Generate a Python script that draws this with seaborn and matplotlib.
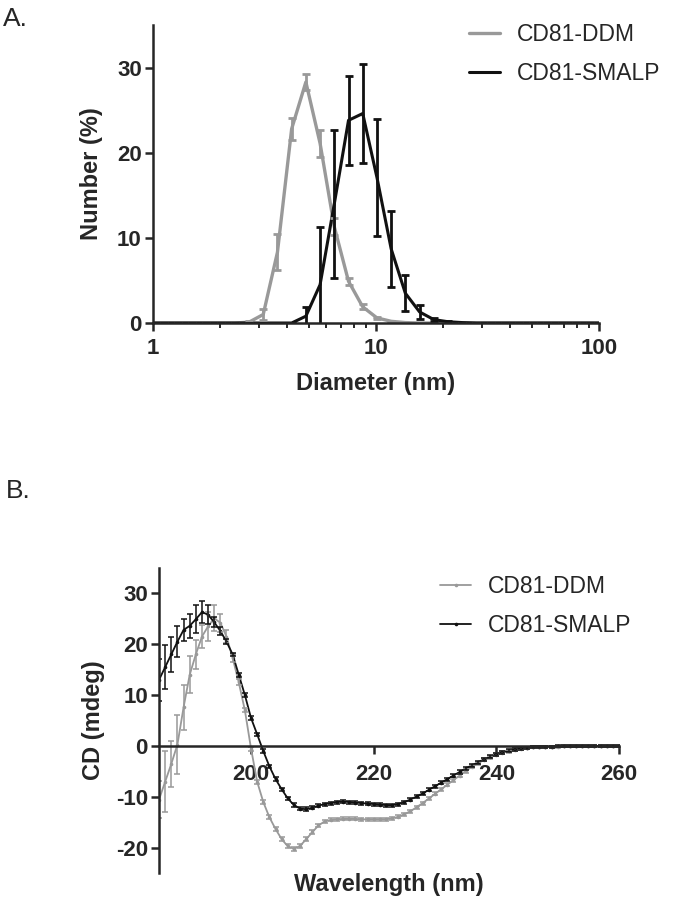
import numpy as np
import pandas as pd
import matplotlib.pyplot as plt
import seaborn as sns

# ---- A. DLS size distribution (number %) ----
diameter = [0.9649, 1.117, 1.294, 1.499, 1.736, 2.010, 2.328, 2.696, 3.122, 3.615, 4.187,
            4.849, 5.615, 6.503, 7.531, 8.721, 10.10, 11.70, 13.54, 15.69, 18.17,
            21.04, 24.36, 28.21, 32.67, 37.84, 43.82, 50.75, 58.77, 68.06, 78.82, 91.28, 105.7]
ddm_num = [0, 0, 0, 0, 0, 0, 0, 0.1, 1.0, 8.3, 22.8,
           28.3, 21.1, 11.3, 4.9, 1.9, 0.6, 0.2, 0.05, 0, 0,
           0, 0, 0, 0, 0, 0, 0, 0, 0, 0, 0, 0]
ddm_sd = [0, 0, 0, 0, 0, 0, 0, 0.1, 0.7, 2.1, 1.3,
          0.9, 1.6, 1.0, 0.4, 0.3, 0.1, 0.05, 0, 0, 0,
          0, 0, 0, 0, 0, 0, 0, 0, 0, 0, 0, 0]
smalp_num = [0, 0, 0, 0, 0, 0, 0, 0, 0, 0, 0,
             0.8, 4.5, 14.0, 23.8, 24.6, 17.1, 8.7, 3.5, 1.3, 0.4,
             0.15, 0.05, 0, 0, 0, 0, 0, 0, 0, 0, 0, 0]
smalp_sd = [0, 0, 0, 0, 0, 0, 0, 0, 0, 0, 0,
            1.1, 6.8, 8.7, 5.2, 5.8, 6.9, 4.5, 2.1, 0.8, 0.2,
            0.05, 0, 0, 0, 0, 0, 0, 0, 0, 0, 0, 0]

# ---- B. CD spectra ----
wavelength = np.arange(185, 261)
cd_ddm = [-10.5, -7.0, -3.5, 0.3, 7.6, 14.0, 18.0, 21.5, 23.5, 25.1,
          24.2, 21.5, 17.3, 12.5, 7.0, -0.5, -7.0, -11.0, -14.0, -16.3,
          -18.3, -19.7, -20.2, -19.6, -18.3, -16.9, -15.6, -14.8, -14.5, -14.4,
          -14.3, -14.3, -14.3, -14.4, -14.4, -14.4, -14.4, -14.4, -14.2, -13.9,
          -13.4, -12.8, -12.0, -11.2, -10.3, -9.4, -8.5, -7.6, -6.7, -5.8,
          -4.9, -4.1, -3.4, -2.7, -2.2, -1.7, -1.3, -1.0, -0.7, -0.5,
          -0.35, -0.25, -0.2, -0.15, -0.1, -0.1, -0.05, -0.05, -0.05, -0.05,
          0, 0, 0, 0, 0, 0]
cd_ddm_sd = [3.6, 6.0, 4.5, 5.7, 4.4, 3.6, 2.8, 2.3, 2.9, 2.6,
             1.8, 1.2, 0.8, 0.6, 0.4, 0.4, 0.4, 0.4, 0.4, 0.4,
             0.4, 0.4, 0.4, 0.4, 0.4, 0.4, 0.3, 0.3, 0.3, 0.3,
             0.3, 0.3, 0.3, 0.3, 0.3, 0.3, 0.3, 0.3, 0.3, 0.3,
             0.3, 0.3, 0.3, 0.3, 0.3, 0.3, 0.3, 0.3, 0.3, 0.3,
             0.3, 0.3, 0.3, 0.3, 0.3, 0.3, 0.3, 0.3, 0.3, 0.3,
             0.2, 0.2, 0.2, 0.2, 0.2, 0.2, 0.2, 0.2, 0.2, 0.2,
             0.2, 0.2, 0.2, 0.2, 0.2, 0.2]
cd_smalp = [13.0, 15.5, 18.0, 20.5, 22.8, 23.6, 24.9, 26.3, 25.8, 24.3,
            22.6, 20.5, 18.0, 14.0, 10.0, 5.5, 2.3, -1.0, -4.0, -6.5,
            -8.5, -10.3, -11.6, -12.3, -12.4, -12.1, -11.7, -11.4, -11.2, -11.0,
            -10.9, -11.0, -11.1, -11.2, -11.3, -11.4, -11.5, -11.6, -11.6, -11.4,
            -11.0, -10.5, -9.9, -9.3, -8.6, -7.9, -7.2, -6.5, -5.8, -5.1,
            -4.4, -3.8, -3.2, -2.6, -2.1, -1.6, -1.2, -0.9, -0.6, -0.4,
            -0.3, -0.2, -0.15, -0.1, -0.1, -0.05, -0.05, -0.05, -0.05, 0,
            0, 0, 0, 0, 0, 0]
cd_smalp_sd = [4.1, 4.3, 3.5, 3.0, 2.2, 2.4, 2.8, 2.1, 1.8, 1.0,
               0.7, 0.5, 0.35, 0.35, 0.35, 0.35, 0.35, 0.35, 0.35, 0.35,
               0.35, 0.35, 0.35, 0.35, 0.35, 0.35, 0.3, 0.3, 0.3, 0.3,
               0.3, 0.3, 0.3, 0.3, 0.3, 0.3, 0.3, 0.3, 0.3, 0.3,
               0.3, 0.3, 0.3, 0.3, 0.3, 0.3, 0.3, 0.3, 0.3, 0.3,
               0.3, 0.3, 0.3, 0.3, 0.3, 0.3, 0.3, 0.3, 0.3, 0.3,
               0.2, 0.2, 0.2, 0.2, 0.2, 0.2, 0.2, 0.2, 0.2, 0.2,
               0.2, 0.2, 0.2, 0.2, 0.2, 0.2]

grey = '#999999'
black = '#111111'

sns.set_style('ticks')
plt.rcParams['font.family'] = ['Liberation Sans', 'DejaVu Sans']
plt.rcParams['axes.linewidth'] = 1.8
plt.rcParams['axes.unicode_minus'] = False

fig = plt.figure(figsize=(6.73, 9.01), dpi=100)

# ---------- panel A ----------
ax1 = fig.add_axes([0.2273, 0.6415, 0.6627, 0.3308])
dls = pd.DataFrame({'d': diameter, 'DDM': ddm_num, 'SMALP': smalp_num})
sns.lineplot(data=dls, x='d', y='DDM', ax=ax1, color=grey, lw=2.4, label='CD81-DDM')
sns.lineplot(data=dls, x='d', y='SMALP', ax=ax1, color=black, lw=2.2, label='CD81-SMALP')
ax1.errorbar(diameter, ddm_num, yerr=ddm_sd, fmt='none', ecolor=grey,
             elinewidth=2.0, capsize=3, capthick=2.0)
ax1.errorbar(diameter, smalp_num, yerr=smalp_sd, fmt='none', ecolor=black,
             elinewidth=2.0, capsize=3, capthick=2.0)
ax1.set_xscale('log')
ax1.set_xlim(1, 100)
ax1.set_ylim(0, 35)
ax1.set_xticks([1, 10, 100])
ax1.set_xticklabels(['1', '10', '100'])
ax1.set_yticks([0, 10, 20, 30])
ax1.tick_params(which='major', length=6, width=1.8, labelsize=16, pad=5)
ax1.tick_params(axis='y', pad=2)
ax1.tick_params(which='minor', length=3.5, width=1.4)
for t in ax1.get_xticklabels() + ax1.get_yticklabels():
    t.set_fontweight('bold')
ax1.set_xlabel('Diameter (nm)', fontsize=17, fontweight='bold', va='top')
ax1.set_ylabel('Number (%)', fontsize=17, fontweight='bold')
ax1.xaxis.set_label_coords(0.5, -0.165)
ax1.yaxis.set_label_coords(-0.112, 0.5)
sns.despine(ax=ax1)
ax1.legend(loc='upper left', bbox_to_anchor=(0.697, 0.975), bbox_transform=fig.transFigure,
           frameon=False, fontsize=16.5, handlelength=1.35, handletextpad=0.75,
           labelspacing=0.7, borderpad=0, borderaxespad=0)

# ---------- panel B ----------
ax2 = fig.add_axes([0.2363, 0.0307, 0.6835, 0.3391])
cd = pd.DataFrame({'wl': wavelength, 'DDM': cd_ddm, 'SMALP': cd_smalp})
sns.lineplot(data=cd, x='wl', y='DDM', ax=ax2, color=grey, lw=1.3, marker='o',
             markersize=2.6, markeredgewidth=0, label='CD81-DDM')
sns.lineplot(data=cd, x='wl', y='SMALP', ax=ax2, color=black, lw=1.3, marker='o',
             markersize=2.6, markeredgewidth=0, label='CD81-SMALP')
ax2.errorbar(wavelength, cd_ddm, yerr=cd_ddm_sd, fmt='none', ecolor=grey,
             elinewidth=1.1, capsize=2.2, capthick=1.1)
ax2.errorbar(wavelength, cd_smalp, yerr=cd_smalp_sd, fmt='none', ecolor=black,
             elinewidth=1.1, capsize=2.2, capthick=1.1)
ax2.set_xlim(185, 260)
ax2.set_ylim(-25, 35)
ax2.set_xticks([200, 220, 240, 260])
ax2.set_yticks([-20, -10, 0, 10, 20, 30])
sns.despine(ax=ax2)
ax2.spines['bottom'].set_position(('data', 0))
ax2.tick_params(length=6, width=1.8, labelsize=16)
ax2.tick_params(axis='x', pad=7)
ax2.tick_params(axis='y', pad=2)
for t in ax2.get_xticklabels() + ax2.get_yticklabels():
    t.set_fontweight('bold')
ax2.set_xlabel('Wavelength (nm)', fontsize=17, fontweight='bold', va='top')
ax2.set_ylabel('CD (mdeg)', fontsize=17, fontweight='bold')
ax2.xaxis.set_label_coords(0.5, 0.0)
ax2.yaxis.set_label_coords(-0.117, 0.5)
ax2.legend(loc='upper left', bbox_to_anchor=(0.654, 0.362), bbox_transform=fig.transFigure,
           frameon=False, fontsize=16.5, handlelength=1.35, handletextpad=0.75,
           labelspacing=0.7, borderpad=0, borderaxespad=0)

fig.text(0.005, 0.992, 'A.', fontsize=19, va='top', ha='left')
fig.text(0.008, 0.468, 'B.', fontsize=19, va='top', ha='left')

fig.savefig('out.png', dpi=100)
